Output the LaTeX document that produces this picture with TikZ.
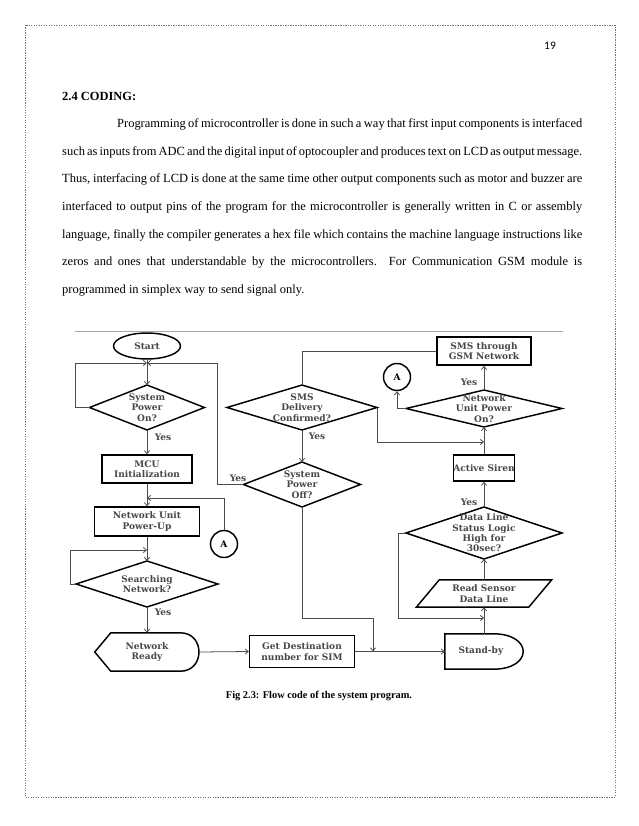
\documentclass[tikz,border=0pt]{standalone}
\usepackage{fontspec}
\setmainfont{Liberation Serif}
\newfontfamily\chartfont{DejaVu Serif}
\newfontfamily\pagenofont{Carlito}
\usetikzlibrary{shapes.geometric,arrows.meta,calc}

\begin{document}
\begin{tikzpicture}[
    x=0.963pt, y=-0.963pt,
    ptext/.style={
        inner sep=0pt,
        anchor=base west,
        font=\fontsize{12}{14}\selectfont
    },
    outline/.style={
        draw=black,
        line width=1.4pt
    },
    ctext/.style={
        font=\chartfont\bfseries\fontsize{8.7}{9.9}\selectfont,
        text=black!72,
        align=center,
        inner sep=0pt
    },
    box/.style={
        rectangle,
        outline,
        ctext
    },
    plainbox/.style={
        rectangle,
        ctext
    },
    decision/.style={
        diamond,
        outline,
        inner sep=0pt,
        outer sep=0pt
    },
    terminal/.style={
        ellipse,
        outline,
        ctext
    },
    joint/.style={
        circle,
        outline,
        ctext,
        text=black,
        minimum size=26pt
    },
    line/.style={
        draw=black!70,
        line width=0.75pt
    },
    arr/.style={
        line,
        -{Straight Barb[length=3pt,width=5pt]}
    }
]
\useasboundingbox (0,0) rectangle (638,826);

% page
\draw[black!55, line width=0.5pt, dash pattern=on 1.2pt off 1.2pt] (25,25) rectangle (615,797);
\node[inner sep=0pt, anchor=base east, font=\pagenofont\fontsize{11}{13}\selectfont] (pageno) at (556,50) {19};
\node[ptext, font=\bfseries\fontsize{12}{14}\selectfont] (head) at (62,101) {2.4 CODING:};

\node[ptext] (p1) at (117,128) {\makebox[447.8pt][s]{Programming of microcontroller is done in such a way that first input components is interfaced}};
\node[ptext] (p2) at (62,155.5) {\makebox[500.8pt][s]{such as inputs from ADC and the digital input of optocoupler and produces text on LCD as output message.}};
\node[ptext] (p3) at (62,183) {\makebox[500.8pt][s]{Thus, interfacing of LCD is done at the same time other output components such as motor and buzzer are}};
\node[ptext] (p4) at (62,210.5) {\makebox[500.8pt][s]{interfaced to output pins of the program for the microcontroller is generally written in C or assembly}};
\node[ptext] (p5) at (62,238) {\makebox[500.8pt][s]{language, finally the compiler generates a hex file which contains the machine language instructions like}};
\node[ptext] (p6) at (62,265.5) {\makebox[500.8pt][s]{zeros and ones that understandable by the microcontrollers. For Communication GSM module is}};
\node[ptext] (p7) at (62,293) {programmed in simplex way to send signal only.};

% flow chart
\draw[black!35, line width=0.6pt] (75,331) -- (563,331);

\node[terminal, minimum width=64.5pt, minimum height=25pt] (start) at (147,346) {Start};
\coordinate (j1) at (147,363);
\node[decision, minimum width=110.7pt, minimum height=43.3pt, label={[ctext]center:System\\Power\\On?}] (spon) at (147,407.5) {};
\node[box, minimum width=86.7pt, minimum height=27pt] (mcu) at (147,469) {MCU\\Initialization};
\coordinate (j2) at (147,498);
\node[box, minimum width=101.1pt, minimum height=27.9pt] (nup) at (147,521.5) {Network Unit\\Power-Up};
\node[joint] (ca1) at (224,544) {A};
\coordinate (j3) at (147,550);
\node[decision, minimum width=136.7pt, minimum height=44.3pt, label={[ctext]center:Searching\\Network?}] (sn) at (147,584) {};
\node[plainbox, minimum width=100.2pt, minimum height=36.6pt] (nr) at (147,652) {Network\\Ready};
\node[box, minimum width=101.1pt, minimum height=30.8pt] (gd) at (302,651.5) {Get Destination\\number for SIM};
\coordinate (j4) at (373,651.5);
\node[plainbox, minimum width=75.1pt, minimum height=33.7pt] (sb) at (484,651.5) {Stand-by\hspace{6pt}};
\coordinate (j5) at (484,618);
\node[plainbox, minimum width=130pt, minimum height=26pt] (rs) at (484,593.5) {Read Sensor\\Data Line};
\node[decision, minimum width=150.2pt, minimum height=50.1pt, label={[ctext]center:Data Line\\Status Logic\\High for\\30sec?}] (dl) at (484,533) {};
\node[box, minimum width=58.7pt, minimum height=25pt] (as) at (484,468) {Active Siren};
\coordinate (j6) at (484,442);
\node[decision, minimum width=150.2pt, minimum height=35.6pt, label={[ctext]center:Network\\Unit Power\\On?}] (nu) at (484,408.5) {};
\node[joint] (ca2) at (397,377) {A};
\node[box, minimum width=90.5pt, minimum height=27pt] (gsm) at (484,351) {SMS through\\GSM Network};
\node[decision, minimum width=144.5pt, minimum height=43.3pt, label={[ctext]center:SMS\\Delivery\\Confirmed?}] (sdc) at (302,407.5) {};
\node[decision, minimum width=112.7pt, minimum height=43.3pt, label={[ctext]center:System\\Power\\Off?}] (spoff) at (302,484.5) {};
\coordinate (rloop) at (217,363);

% outlines of the odd shapes
\draw[outline] (nr.west) -- ($(nr.north west)+(16,0)$) -- ($(nr.north east)+(-19,0)$)
    .. controls ($(nr.north east)+(6,0)$) and ($(nr.south east)+(6,0)$) .. ($(nr.south east)+(-19,0)$)
    -- ($(nr.south west)+(16,0)$) -- cycle;
\draw[outline] (sb.south west) -- (sb.north west) -- ($(sb.north east)+(-30,0)$)
    .. controls ($(sb.north east)+(10,0)$) and ($(sb.south east)+(10,0)$) .. ($(sb.south east)+(-30,0)$)
    -- cycle;
\draw[outline] (rs.south west) -- ($(rs.north west)+(23,0)$) -- (rs.north east) -- ($(rs.south east)+(-23,0)$) -- cycle;

% yes labels
\node[ctext] (y1) at (163,437) {Yes};
\node[ctext] (y2) at (238,478) {Yes};
\node[ctext] (y3) at (163,612) {Yes};
\node[ctext] (y4) at (317,436) {Yes};
\node[ctext] (y5) at (469,382) {Yes};
\node[ctext] (y6) at (469,502) {Yes};

% connectors
\draw[line] (start) -- (j1);
\draw[arr] (j1) -- (spon.north);
\draw[arr] (spon.west) -- ++(-14,0) |- (j1);
\draw[arr] (spoff.west) -| (rloop) -- (j1);
\draw[arr] (spon.south) -- (mcu.north);
\draw[line] (mcu.south) -- (j2);
\draw[arr] (j2) -- (nup.north);
\draw[arr] (ca1.north) |- (j2);
\draw[line] (nup.south) -- (j3);
\draw[arr] (j3) -- (sn.north);
\draw[arr] (sn.west) -- ++(-6,0) |- (j3);
\draw[arr] (sn.south) -- (nr.north);
\draw[arr] (nr.east) -- (gd.west);
\draw[arr] (gd.east) -- (sb.west);
\draw[arr] (spoff.south) -- ++(0,111) -| (j4);
\draw[line] (sb.north) -- (j5);
\draw[arr] (j5) -- (rs.south);
\draw[arr] (dl.west) -- ++(-8,0) |- (j5);
\draw[arr] (rs.north) -- (dl.south);
\draw[arr] (dl.north) -- (as.south);
\draw[line] (as.north) -- (j6);
\draw[arr] (j6) -- (nu.south);
\draw[arr] (sdc.east) |- (j6);
\draw[arr] (nu.north) -- (gsm.south);
\draw[arr] (nu.west) -| (ca2.south);
\draw[line] (gsm.west) -| (sdc.north);
\draw[arr] (sdc.south) -- (spoff.north);

\node[inner sep=0pt, anchor=base, font=\bfseries\fontsize{10}{12}\selectfont] (caption) at (319,698) {Fig 2.3: Flow code of the system program.};

\end{tikzpicture}
\end{document}
